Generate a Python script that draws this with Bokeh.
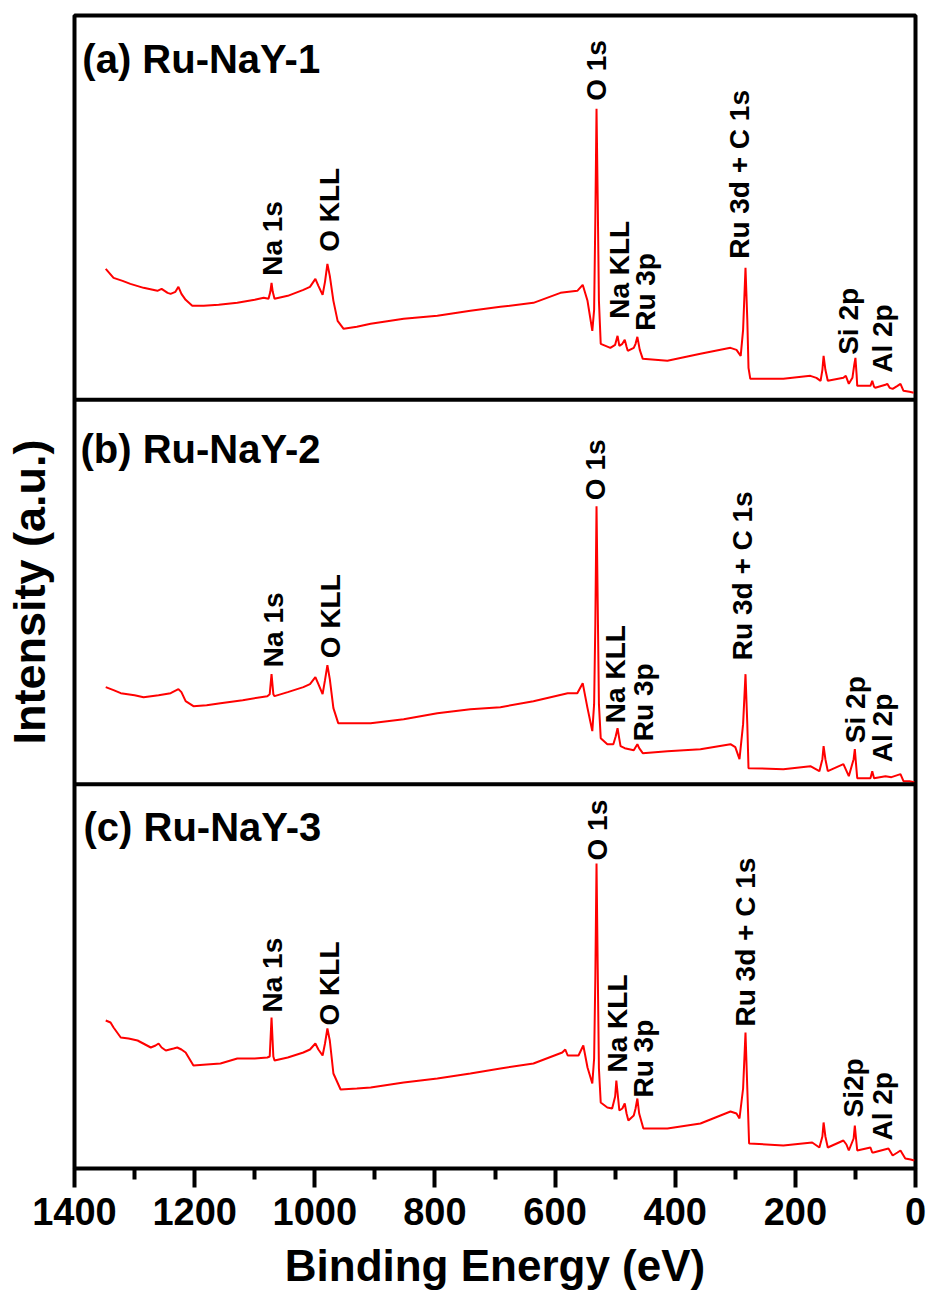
import math
from bokeh.plotting import figure
from bokeh.models import FixedTicker, Span, Range1d, ColumnDataSource
from bokeh.core.properties import value
from bokeh.embed import file_html
from bokeh.resources import INLINE

FONT = "Liberation Sans"

# ---------------- data (binding energy in eV, intensity in a.u.) ----------------
energy_a = [1348,1335,1320,1307,1285,1262,1255,1245,1240,1232,1227,1222,1215,1204,1185,1160,1129,1100,1085,1077,1074,1072,1070,1067,1045,1019,1008,999,994,987,983,979,975,969,962,952,930,907,852,796,741,691,636,591,563,554,546,538,535,533,531,529,527,524,508,500,496,493,488,484,481,479,469,466,463,459,454,413,358,308,298,291,287,283,280,278,275,220,175,165,158,155,153,150,146,120,116,111,105,102,100,98,97,75,72,69,67,50,47,43,38,30,25,20,10,3]
inten_a = [131,122,119,116,112,109,111,107,106,108,113,106,100,94,94,95,97,100,102,101,108,117,108,101,104,110,113,121,114,105,118,136,124,99,79,71,73,76,81,84,89,93,97,107,109,115,99,69,90,180,291,200,99,56,52,55,64,54,56,60,53,49,52,56,63,50,41,39,46,52,50,44,70,132,80,32,21,21,24,22,19,30,44,30,19,22,24,16,22,35,42,25,14,14,19,13,12,15,16,12,11,14,16,9,8,7]

energy_b = [1348,1335,1323,1300,1285,1260,1240,1227,1222,1215,1202,1180,1157,1120,1079,1075,1072,1069,1067,1045,1019,1008,999,994,987,983,979,975,969,961,930,907,852,796,741,691,636,579,563,554,546,538,535,533,531,529,527,524,513,503,499,496,493,491,484,469,465,463,460,454,413,358,308,300,293,287,283,280,278,220,175,160,155,153,150,146,120,111,103,101,99,97,75,72,69,50,40,25,20,10,2]
inten_b = [97,94,91,89,87,89,91,95,92,83,78,79,81,84,88,90,110,90,88,92,97,100,107,100,90,104,119,105,76,61,61,61,65,71,75,77,83,91,91,101,76,53,80,160,278,180,80,46,40,40,48,56,45,38,36,34,38,40,36,31,33,35,40,37,25,60,110,60,16,15,18,13,25,38,25,13,20,8,25,35,20,6,6,13,6,8,7,10,3,3,2]

energy_c = [1348,1340,1335,1323,1310,1295,1273,1265,1260,1255,1248,1235,1229,1222,1215,1202,1180,1157,1129,1100,1079,1075,1072,1069,1067,1045,1019,1008,999,994,987,983,979,975,969,957,930,907,852,796,741,691,636,588,583,579,561,553,546,538,535,533,531,529,527,524,513,505,500,498,495,493,488,484,481,478,469,466,463,460,453,413,358,308,298,293,287,283,280,277,220,172,160,155,153,150,146,120,115,111,103,101,99,97,75,72,70,45,38,30,25,17,8,2]
inten_c = [148,146,141,131,130,128,121,123,125,121,118,120,121,119,116,103,104,105,110,110,111,112,151,112,108,111,116,119,125,119,113,125,140,128,95,79,80,81,86,90,95,100,105,116,119,113,113,123,101,85,110,190,305,200,100,66,61,60,72,88,70,58,60,65,55,48,53,60,70,55,40,40,45,57,55,50,80,136,80,25,23,26,21,32,46,32,21,28,24,18,30,43,30,18,21,16,16,20,13,16,18,10,9,8]

panel_names = ["(a) Ru-NaY-1", "(b) Ru-NaY-2", "(c) Ru-NaY-3"]
peak_names_a = ["Na 1s", "O KLL", "O 1s", "Na KLL", "Ru 3p", "Ru 3d + C 1s", "Si 2p", "Al 2p"]
peak_names_b = ["Na 1s", "O KLL", "O 1s", "Na KLL", "Ru 3p", "Ru 3d + C 1s", "Si 2p", "Al 2p"]
peak_names_c = ["Na 1s", "O KLL", "O 1s", "Na KLL", "Ru 3p", "Ru 3d + C 1s", "Si2p", "Al 2p"]
peak_x_a = [1070, 975, 531, 492, 449, 293, 111, 55]
peak_y_a = [124, 148, 299, 81, 69, 141, 45, 27]
peak_x_b = [1068, 974, 532, 499, 452, 288, 100, 55]
peak_y_b = [117, 126, 284, 61, 43, 124, 41, 22]
peak_x_c = [1070, 975, 529, 496, 452, 283, 103, 55]
peak_y_c = [156, 143, 308, 96, 71, 142, 51, 28]

x_ticks = [0, 200, 400, 600, 800, 1000, 1200, 1400]
x_minor = [100, 300, 500, 700, 900, 1100, 1300]

# ---------------- layout constants ----------------
PANEL_H = 384.33
offsets = [2 * PANEL_H, PANEL_H, 0.0]
title_x = [1387, 1390, 1385]
title_y = [341, 335, 341]

p = figure(width=929, height=1294, output_backend="svg", toolbar_location=None,
           x_range=Range1d(1400, 0), y_range=Range1d(0, 3 * PANEL_H),
           min_border_left=74, min_border_right=14, min_border_top=15,
           min_border_bottom=126, background_fill_color="white",
           border_fill_color="white")
p.grid.visible = False
p.outline_line_color = "black"
p.outline_line_width = 4

series = [(energy_a, inten_a), (energy_b, inten_b), (energy_c, inten_c)]
for (ex, iy), off in zip(series, offsets):
    p.line(ex, [v + off for v in iy], line_color="#ff0000", line_width=2)

for off in offsets[:2]:
    p.add_layout(Span(location=off, dimension="width", line_color="black", line_width=4))

peaks = [(peak_names_a, peak_x_a, peak_y_a), (peak_names_b, peak_x_b, peak_y_b),
         (peak_names_c, peak_x_c, peak_y_c)]
for (names, px, py), off in zip(peaks, offsets):
    src = ColumnDataSource(dict(x=px, y=[v + off for v in py], t=names))
    p.text(x="x", y="y", text="t", source=src, angle=math.pi / 2,
           text_align="left", text_baseline="alphabetic",
           text_font=value(FONT), text_font_style="bold", text_font_size="28px",
           text_color="black")

src_t = ColumnDataSource(dict(x=title_x, y=[t + o for t, o in zip(title_y, offsets)], t=panel_names))
p.text(x="x", y="y", text="t", source=src_t, text_align="left", text_baseline="alphabetic",
       text_font=value(FONT), text_font_style="bold", text_font_size="40px", text_color="black")

# x axis
xa = p.xaxis[0]
xa.ticker = FixedTicker(ticks=x_ticks, minor_ticks=x_minor)
xa.axis_line_color = None
xa.major_tick_in = 0
xa.major_tick_out = 19
xa.minor_tick_in = 0
xa.minor_tick_out = 11
xa.major_tick_line_width = 4
xa.minor_tick_line_width = 4
xa.major_tick_line_color = "black"
xa.minor_tick_line_color = "black"
xa.major_label_text_font = FONT
xa.major_label_text_font_style = "bold"
xa.major_label_text_font_size = "38px"
xa.major_label_text_color = "black"
xa.major_label_standoff = 10
xa.axis_label = "Binding Energy (eV)"
xa.axis_label_text_font = FONT
xa.axis_label_text_font_style = "bold"
xa.axis_label_text_font_size = "44px"
xa.axis_label_text_color = "black"
xa.axis_label_standoff = 13

# y axis: title only
ya = p.yaxis[0]
ya.axis_line_color = None
ya.major_tick_line_color = None
ya.minor_tick_line_color = None
ya.major_tick_out = 0
ya.major_tick_in = 0
ya.minor_tick_out = 0
ya.major_label_text_font_size = "1px"
ya.major_label_text_color = None
ya.major_label_standoff = 0
ya.axis_label = "Intensity (a.u.)"
ya.axis_label_text_font = FONT
ya.axis_label_text_font_style = "bold"
ya.axis_label_text_font_size = "45px"
ya.axis_label_text_color = "black"
ya.axis_label_standoff = 20

open("out.html", "w").write(file_html(p, INLINE))
